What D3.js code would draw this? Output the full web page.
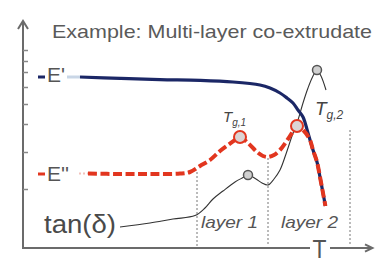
<!DOCTYPE html>
<html><head><meta charset="utf-8">
<script src="https://cdn.jsdelivr.net/npm/d3@7"></script>
<style>body{margin:0;background:#fff}svg{display:block}text{font-family:"Liberation Sans",Arial,sans-serif}</style>
</head><body><svg id="c" width="377" height="265"></svg>
<script>
// Data (arbitrary units: temperature along x, modulus / tan delta along y)
const storageT = [28.5,48.5,68.5,88.5,105,118.5,123.5,128.5,132,135,137.5,140,142.5,145,147,148.5,150,151.2];
const storageE = [85.5,84.8,84.2,83.8,83,81.5,80,77.5,75,72.5,69,65.5,57.5,49,43,35.5,27.5,21];
const lossT = [32.5,48.5,63.5,78.5,83.5,88.5,93.5,98.5,102.5,106,108.5,112.5,117,120,122.5,125.5,128.5,131.5,134.5,137,140.5,143.5,145,147,148.5,150,151.2];
const lossE = [37.2,37,37,37.2,38,41,44,48.5,51.5,54,55.5,52.5,48,46,45.5,46.5,49,53,57.5,61,58.5,54,49,43,35.5,27.5,21];
const tanT = [48.5,63.5,75,86,91,95,100,106,110,112.5,116.5,119.5,122.5,125.5,128.5,131.5,134.5,137.5,140,142.5,145,147,149,151.5];
const tanD = [10.5,12.5,14.5,16.2,20,24.5,28.5,33,35.2,36.5,34.5,32.5,31.5,34.5,39,47,56,64,72.5,80,86,89,86,79];
const tgT = [108.5,137];         // glass transitions on E''
const tgE = [55.5,61];
const tgLabels = ["g,1","g,2"];
const tanPeakT = [112.5,147];
const tanPeakD = [36.5,89];
const layerX = [87,122.5,163.5];
const layerTop = [38,45,59];
const layerLabels = ["layer 1","layer 2"];
const yTicks = [99,93.5,88,80.5,72,62,48,29.5];
const title = "Example: Multi-layer co-extrudate";

const svg = d3.select("#c");
const x = d3.scaleLinear().domain([0,175]).range([23,373]);
const y = d3.scaleLinear().domain([0,114]).range([248,20]);

const axisCol = "#6b6b6b", navy = "#1b2766", red = "#e2361f";

// axes
svg.append("line").attr("x1",x(0)).attr("x2",x(0)).attr("y1",y(0)+1).attr("y2",y(113)).attr("stroke",axisCol).attr("stroke-width",2);
svg.append("path").attr("d",`M${x(0)-5},${y(109.5)}L${x(0)},${y(113.5)}L${x(0)+5},${y(109.5)}`).attr("fill","none").attr("stroke",axisCol).attr("stroke-width",2);
svg.append("g").attr("transform",`translate(${x(0)},0)`)
  .call(d3.axisRight(y).tickValues(yTicks).tickSize(5).tickFormat(""))
  .call(g=>g.select(".domain").remove())
  .call(g=>g.selectAll("line").attr("stroke","#888").attr("stroke-width",1.5));
svg.append("line").attr("x1",x(0)).attr("x2",x(143.5)).attr("y1",y(0)).attr("y2",y(0)).attr("stroke",axisCol).attr("stroke-width",2);
svg.append("line").attr("x1",x(153.5)).attr("x2",x(174.5)).attr("y1",y(0)).attr("y2",y(0)).attr("stroke",axisCol).attr("stroke-width",2);
svg.append("path").attr("d",`M${x(171)},${y(1.8)}L${x(174.7)},${y(0)}L${x(171)},${y(-1.8)}`).attr("fill","none").attr("stroke",axisCol).attr("stroke-width",2);
svg.append("text").attr("x",x(148.3)).attr("y",258).attr("text-anchor","middle").attr("font-size",26).attr("fill","#555").attr("textLength",14).attr("lengthAdjust","spacingAndGlyphs").text("T");

// title
svg.append("text").attr("x",52).attr("y",38).attr("font-size",19).attr("fill","#5a5a5a").attr("textLength",320).attr("lengthAdjust","spacingAndGlyphs").text(title);

// layer boundaries
layerX.forEach((lx,i)=>{
  svg.append("line").attr("x1",x(lx)).attr("x2",x(lx)).attr("y1",y(layerTop[i])).attr("y2",y(1)).attr("stroke","#777").attr("stroke-width",1).attr("stroke-dasharray","2,2");
});
layerLabels.forEach((t,i)=>{
  svg.append("text").attr("x",i===0?201:281).attr("y",228).attr("font-size",17).attr("font-style","italic").attr("fill","#555").attr("textLength",57).attr("lengthAdjust","spacingAndGlyphs").text(t);
});

const line = d3.line().x(d=>x(d[0])).y(d=>y(d[1])).curve(d3.curveCatmullRom.alpha(0.5));

// tan delta
svg.append("path").attr("d",line(d3.zip(tanT,tanD))).attr("fill","none").attr("stroke","#333").attr("stroke-width",1.1);
tanPeakT.forEach((t,i)=>{
  svg.append("circle").attr("cx",x(t)).attr("cy",y(tanPeakD[i])).attr("r",4.5).attr("fill","#d0d0d0").attr("stroke","#555").attr("stroke-width",1.5);
});

// E'
svg.append("line").attr("x1",67).attr("x2",x(storageT[0])).attr("y1",y(storageE[0])).attr("y2",y(storageE[0])).attr("stroke","#c9d6e6").attr("stroke-width",3);
svg.append("path").attr("d",line(d3.zip(storageT,storageE))).attr("fill","none").attr("stroke",navy).attr("stroke-width",3.2);

// E''
svg.append("line").attr("x1",79).attr("x2",x(lossT[0])).attr("y1",y(lossE[0])).attr("y2",y(lossE[0])).attr("stroke","#f2c2bb").attr("stroke-width",2).attr("stroke-dasharray","2,2");
svg.append("path").attr("d",line(d3.zip(lossT,lossE))).attr("fill","none").attr("stroke",red).attr("stroke-width",4).attr("stroke-dasharray","9,3.5");
tgT.forEach((t,i)=>{
  svg.append("circle").attr("cx",x(t)).attr("cy",y(tgE[i])).attr("r",6).attr("fill","#dcd4d4").attr("stroke",red).attr("stroke-width",2);
});

// labels
svg.append("line").attr("x1",38).attr("x2",45).attr("y1",77).attr("y2",77).attr("stroke",navy).attr("stroke-width",3);
svg.append("text").attr("x",47).attr("y",82).attr("font-size",21).attr("fill","#555").text("E'");
svg.append("line").attr("x1",38).attr("x2",45).attr("y1",174).attr("y2",174).attr("stroke",red).attr("stroke-width",3);
svg.append("text").attr("x",47).attr("y",181).attr("font-size",21).attr("fill","#555").text("E''");
svg.append("text").attr("x",44).attr("y",233).attr("font-size",25).attr("fill","#4a4a4a").attr("textLength",72).attr("lengthAdjust","spacingAndGlyphs").text("tan(δ)");

const tgPos = [[223,122,15,10],[315,115,19,12]];
tgLabels.forEach((s,i)=>{
  const [tx,ty,fs,ss] = tgPos[i];
  const t = svg.append("text").attr("x",tx).attr("y",ty).attr("font-size",fs).attr("font-style","italic").attr("fill","#444");
  t.append("tspan").text("T");
  t.append("tspan").attr("font-size",ss).attr("dy",4).text(s);
});
</script></body></html>
